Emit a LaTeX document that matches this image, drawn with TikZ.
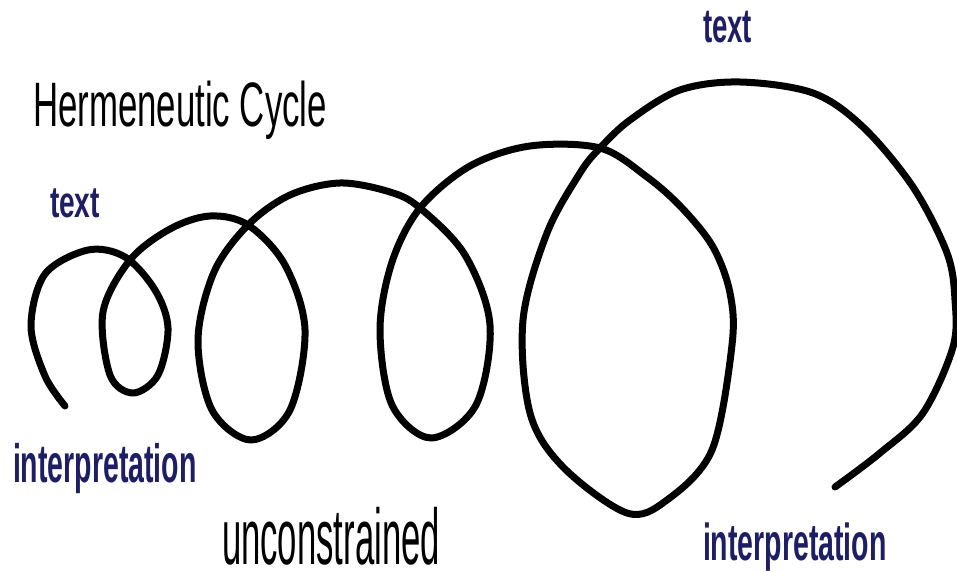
\documentclass[tikz,border=0pt]{standalone}
\usepackage{fontspec}
\setmainfont{Liberation Sans}
\definecolor{navy}{RGB}{30,30,100}
\tikzset{
  lbl/.style={inner sep=0pt, outer sep=0pt, anchor=base west, text depth=0pt},
  spiral/.style={line width=7pt, line cap=round, line join=round, black}
}
\newcommand{\lbltext}[3]{\scalebox{#1}[#2]{\fontsize{10}{12}\selectfont #3}}
\begin{document}
\begin{tikzpicture}[x=1pt,y=-1pt]
\useasboundingbox (0,0) rectangle (957,572);
\fill[white] (0,0) rectangle (957,572);
% spiral curve
\draw[spiral] plot[smooth, tension=0.55] coordinates {
(65,406) (45,376) (31,326) (45,274) (88,250) (125,257)
(155,290) (168,328) (158,375) (133,393) (110,375) (103,312) (130,260)
(170,229) (210,216) (248,225)
(285,265) (305,330) (290,410) (251,440) (212,410) (198,340) (214,272) (248,225)
(290,195) (340,183) (390,192) (420,208)
(465,255) (490,325) (476,405) (431,438) (392,405) (380,330) (392,262) (420,208)
(470,166) (530,146) (600,148)
(647,177) (682,208) (713,247) (730,293) (732,345) (712,450) (667,500) (627,513) (563,467) (530,413) (523,320) (547,233) (580,173) (600,148)
(630,120) (680,90) (740,82) (813,93) (863,127) (913,187) (947,253) (955,300) (953,347) (923,413) (880,453) (835,487)
};
% labels
\node[lbl] (title) at (33,127) {\lbltext{3.48}{6.28}{Hermeneutic Cycle}};
\node[lbl, text=navy] (textL) at (50,217) {\lbltext{2.81}{4.4}{\bfseries text}};
\node[lbl, text=navy] (interpL) at (13,482) {\lbltext{2.85}{5.4}{\bfseries interpretation}};
\node[lbl] (uncon) at (222,564) {\lbltext{3.47}{7.9}{unconstrained}};
\node[lbl, text=navy] (textR) at (703,43) {\lbltext{2.76}{4.8}{\bfseries text}};
\node[lbl, text=navy] (interpR) at (703,560) {\lbltext{2.85}{5.2}{\bfseries interpretation}};
\end{tikzpicture}
\end{document}
